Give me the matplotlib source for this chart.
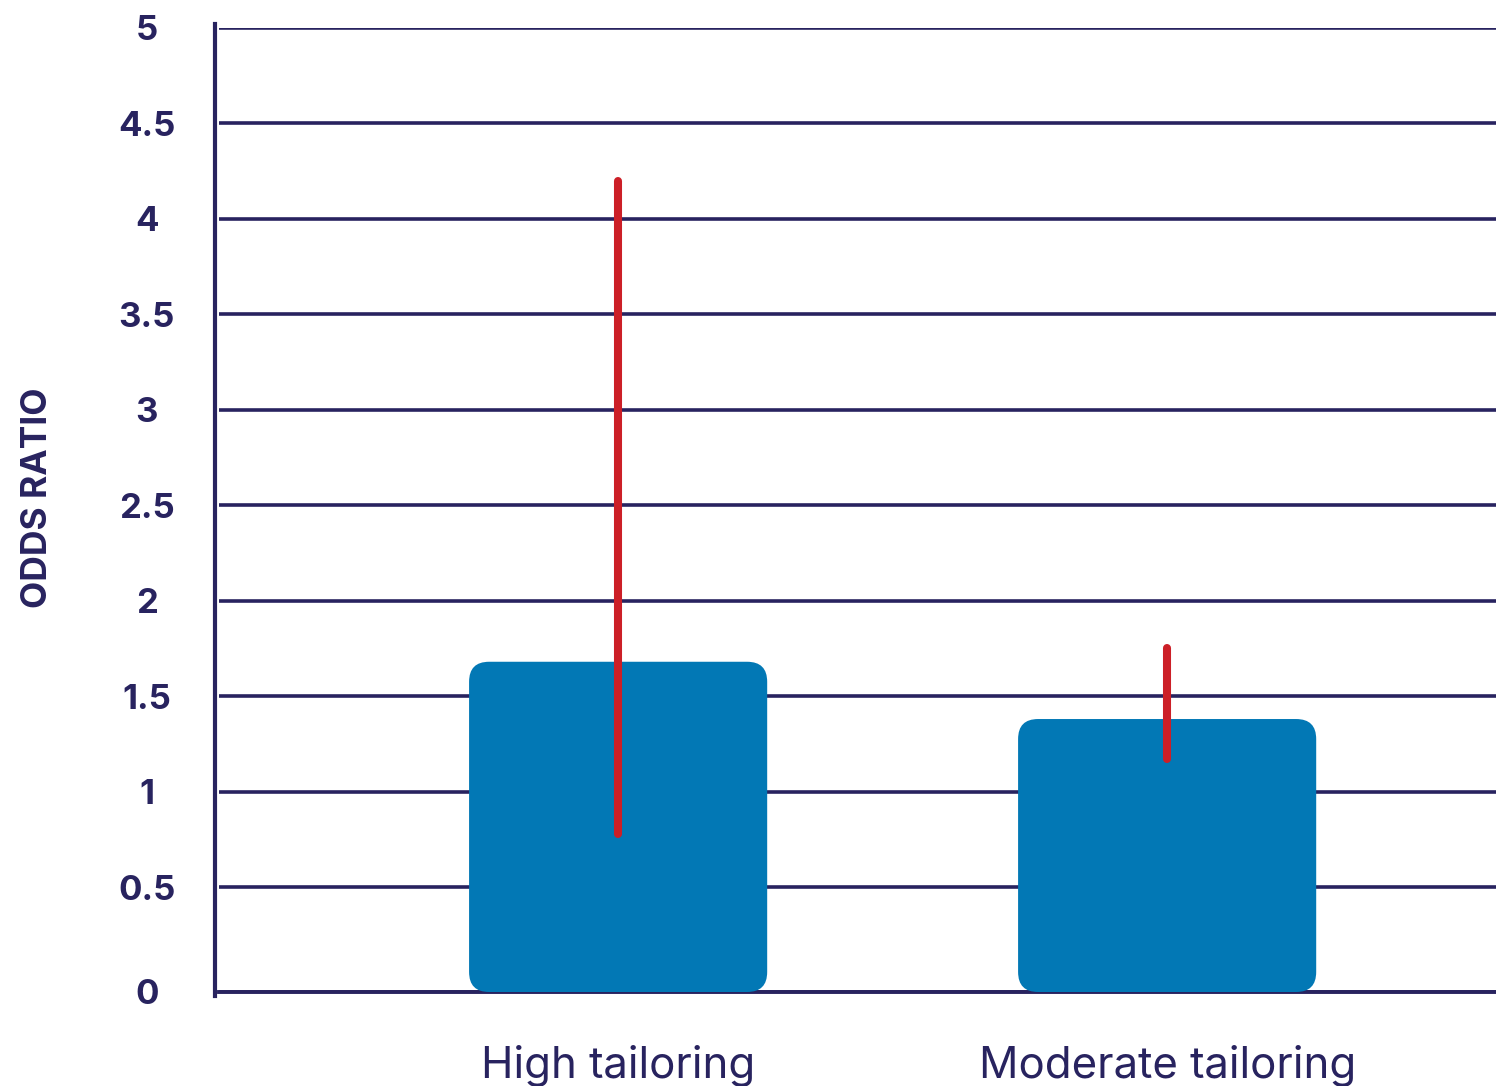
import numpy as np
import matplotlib.pyplot as plt
from matplotlib.patches import FancyBboxPatch

# data
categories = ['High tailoring', 'Moderate tailoring']
odds_ratio = [1.68, 1.38]
ci_low = [0.78, 1.17]
ci_high = [4.20, 1.75]
tick_vals = [0, 0.5, 1, 1.5, 2, 2.5, 3, 3.5, 4, 4.5, 5]
tick_labels = ['0', '0.5', '1', '1.5', '2', '2.5', '3', '3.5', '4', '4.5', '5']

navy = '#28235f'
blue = '#0278b5'
red = '#cc1f27'
plt.rcParams['font.family'] = ['Inter', 'DejaVu Sans']

W, H = 1496, 1086
fig = plt.figure(figsize=(W / 100, H / 100), dpi=100)
ax = fig.add_axes([219 / W, 94 / H, 1 - 219 / W, (992 - 28) / H])

floor = -0.05  # axis line sits a bit under the 0 level
x = np.arange(len(categories))
width = 0.543
x_lo, x_hi = -0.727, 1.599

bars = ax.bar(x, np.array(odds_ratio) - floor, width, bottom=floor, color=blue)
ax.set_xlim(x_lo, x_hi)
ax.set_ylim(floor, 5)

# swap plain bars for rounded ones
xs_per_px = (x_hi - x_lo) / (W - 219)
ys_per_px = (5 - floor) / (992 - 28)
aspect = ys_per_px / xs_per_px
for b in bars:
    bx, by = b.get_x(), b.get_y()
    bw, bh = b.get_width(), b.get_height()
    b.remove()
    ax.add_patch(FancyBboxPatch((bx, by), bw, bh,
                                boxstyle='round,pad=0,rounding_size=%f' % (20 * xs_per_px),
                                mutation_aspect=aspect, fc=blue, ec='none', zorder=2))

ax.vlines(x, ci_low, ci_high, color=red, linewidth=5.8, capstyle='round', zorder=3)

ax.set_yticks([floor] + tick_vals[1:], labels=tick_labels)
ax.set_xticks(x, labels=categories)
ax.grid(axis='y', color=navy, linewidth=2.6, zorder=0)
ax.set_axisbelow(True)

for s in ['top', 'right', 'bottom']:
    ax.spines[s].set_visible(False)
ax.spines['left'].set_color(navy)
ax.spines['left'].set_linewidth(3)
ax.spines['left'].set_position(('outward', 3))
ax.spines['left'].set_bounds(floor - 0.02, 5.02)
ax.axhline(floor, color=navy, linewidth=2.8, zorder=1, clip_on=False)

ax.tick_params(axis='y', length=0, pad=49, labelsize=25, labelcolor=navy)
ax.tick_params(axis='x', length=0, pad=38, labelsize=31.5, labelcolor=navy)
for t in ax.get_yticklabels():
    t.set_fontweight('bold')
    t.set_horizontalalignment('center')

fig.text(38 / W, 1 - 498 / H, 'ODDS RATIO', rotation=90, ha='center', va='center',
         fontsize=25.5, fontweight='bold', color=navy)

fig.savefig('out.png', dpi=100)
